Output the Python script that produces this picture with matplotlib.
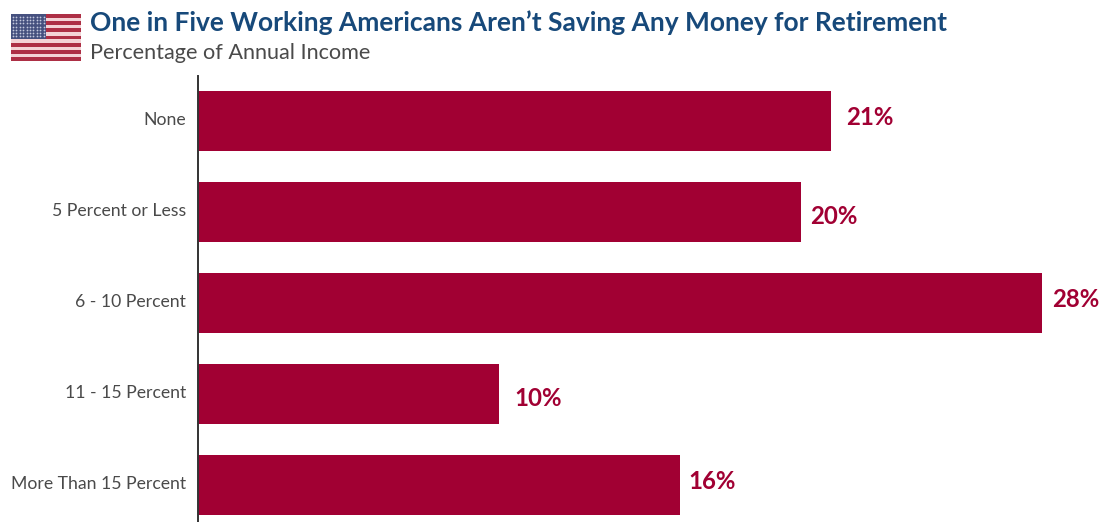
import matplotlib.pyplot as plt
from matplotlib.patches import Rectangle
from matplotlib.transforms import ScaledTranslation

categories = ["None", "5 Percent or Less", "6 - 10 Percent", "11 - 15 Percent", "More Than 15 Percent"]
values = [21, 20, 28, 10, 16]
# value labels sit at uneven distances from the bar ends (points)
label_dx = [11, 7, 7, 11, 5.5]
label_dy = [2.2, -2.9, 2.2, -2.9, 2.2]

W, H = 1115, 522
BAR_COLOR = "#a10033"

plt.rcParams["font.family"] = ["Lato", "DejaVu Sans"]

fig = plt.figure(figsize=(W / 100, H / 100), dpi=100, facecolor="white")

# Bar panel
ax = fig.add_axes([198 / W, 0, (W - 198) / W, (H - 76) / H])
y = list(range(len(categories)))
ax.barh(y, values, height=0.66, color=BAR_COLOR)
ax.set_xlim(0, (W - 198) / 30.14)
ax.set_ylim(4.406, -0.495)
ax.set_yticks(y, categories, fontsize=12.7, color="#4a4a4a")
ax.tick_params(axis="y", length=0, pad=8.7)
shift = ScaledTranslation(0, 2 / 72, fig.dpi_scale_trans)
for tick in ax.get_yticklabels():
    tick.set_transform(tick.get_transform() + shift)
ax.set_xticks([])
for side in ["top", "right", "bottom"]:
    ax.spines[side].set_visible(False)
ax.spines["left"].set_color("#333333")
ax.spines["left"].set_linewidth(1.4)

for i, v in enumerate(values):
    ax.annotate(f"{v}%", (v, i), xytext=(label_dx[i], label_dy[i]), textcoords="offset points",
                va="center", ha="left", fontsize=17.3, fontweight="bold", color=BAR_COLOR)

# Header
fig.text(90 / W, 1 - 23 / H, "One in Five Working Americans Aren\u2019t Saving Any Money for Retirement",
         fontsize=19, fontweight="bold", color="#17497a", va="center", ha="left")
fig.text(90 / W, 1 - 53 / H, "Percentage of Annual Income",
         fontsize=15.6, color="#4a4a4a", va="center", ha="left")

# Flag icon
flag = fig.add_axes([11 / W, 1 - 61 / H, 70 / W, 47 / H])
flag.set_xlim(0, 70)
flag.set_ylim(13, 0)
flag.axis("off")
for s in range(13):
    flag.add_patch(Rectangle((0, s), 70, 1, color="#ad2f45" if s % 2 == 0 else "#f3d3d6", lw=0))
flag.add_patch(Rectangle((0, 0), 35, 7, color="#46517f", lw=0))
star_x = [2 + 3.4 * c for c in range(10)]
star_y = [0.8 + 0.9 * r for r in range(7)]
flag.scatter([a for a in star_x for b in star_y], [b for a in star_x for b in star_y],
             s=1.6, color="#c4c9de", lw=0)

fig.savefig("out.png", dpi=100)
